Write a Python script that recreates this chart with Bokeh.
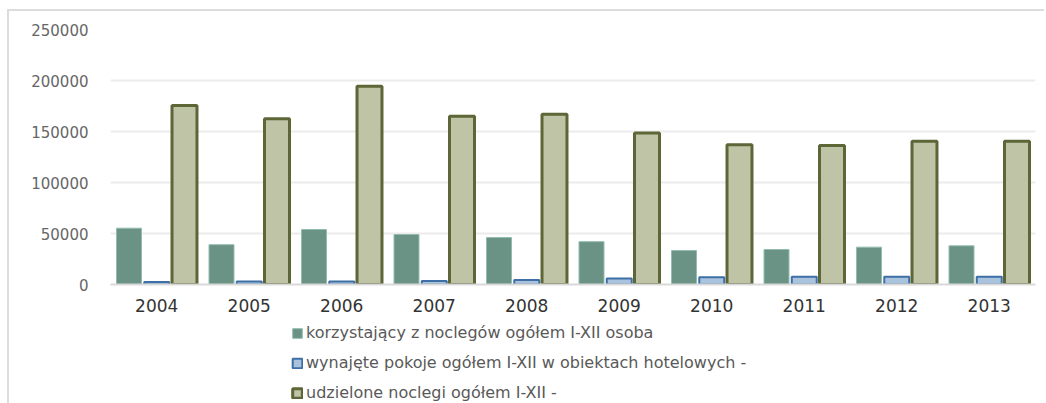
from bokeh.plotting import figure
from bokeh.layouts import column
from bokeh.models import ColumnDataSource, Range1d, FactorRange, Legend, LegendItem, NumeralTickFormatter
from bokeh.transform import dodge
from bokeh.embed import file_html
from bokeh.resources import INLINE

years = ["2004", "2005", "2006", "2007", "2008", "2009", "2010", "2011", "2012", "2013"]
korzystajacy = [55200, 39000, 53900, 49000, 46000, 42000, 33300, 34300, 36600, 37900]
pokoje = [2500, 3000, 3000, 3500, 4500, 6000, 7000, 7500, 7500, 7500]
noclegi = [175500, 162400, 194400, 165000, 167000, 148500, 137000, 136300, 140500, 140500]
series_labels = [
    "korzystający z noclegów ogółem I-XII osoba",
    "wynajęte pokoje ogółem I-XII w obiektach hotelowych -",
    "udzielone noclegi ogółem I-XII -",
]
y_ticks = [0, 50000, 100000, 150000, 200000, 250000]

styles_list = [
    dict(fill_color="#6a9386", line_color="#92bcae", line_width=1),
    dict(fill_color="#a9c3dd", line_color="#3e6fa6", line_width=2),
    dict(fill_color="#bfc4a7", line_color="#5c6636", line_width=3),
]

src = ColumnDataSource(dict(years=years, a=korzystajacy, b=pokoje, c=noclegi))

FONT = "DejaVu Sans"

p = figure(
    width=1035, height=303,
    x_range=FactorRange(*years, range_padding=0),
    y_range=Range1d(0, 250000),
    output_backend="svg", toolbar_location=None, tools="",
    min_border_left=101, min_border_right=9, min_border_top=18, min_border_bottom=30,
)
p.outline_line_color = None
p.background_fill_color = "white"
p.border_fill_color = "white"

w = 0.27
for col, off, st in zip(["a", "b", "c"], [-0.3, 0.0, 0.3], styles_list):
    p.vbar(x=dodge("years", off, range=p.x_range), top=col, width=w, source=src, **st)

p.xgrid.grid_line_color = None
p.ygrid.grid_line_color = "#ececec"
p.ygrid.grid_line_width = 2
p.ygrid.ticker = y_ticks

p.yaxis.ticker = y_ticks
p.yaxis.formatter = NumeralTickFormatter(format="0")
p.yaxis.axis_line_color = None
p.yaxis.major_tick_line_color = None
p.yaxis.minor_tick_line_color = None
p.yaxis.major_label_text_font = FONT
p.yaxis.major_label_text_font_size = "15px"
p.yaxis.major_label_text_color = "#666666"
p.yaxis.major_label_standoff = 16

p.xaxis.axis_line_color = "#d9d9d9"
p.xaxis.axis_line_width = 2
p.xaxis.major_tick_line_color = None
p.xaxis.minor_tick_line_color = None
p.xaxis.major_label_text_font = FONT
p.xaxis.major_label_text_font_size = "17px"
p.xaxis.major_label_text_color = "#333333"
p.xaxis.major_label_standoff = 8

# legend panel below the chart (swatch renderers sit outside the visible range)
lg = figure(
    width=1035, height=89,
    x_range=Range1d(0, 1), y_range=Range1d(0, 1),
    x_axis_type=None, y_axis_type=None,
    output_backend="svg", toolbar_location=None, tools="",
    min_border_left=0, min_border_right=0, min_border_top=0, min_border_bottom=0,
)
lg.outline_line_color = None
lg.border_fill_color = "white"
lg.background_fill_color = "white"

items = []
for lab, st in zip(series_labels, styles_list):
    r = lg.quad(left=[-50], right=[-49], bottom=[-50], top=[-49], **st)
    items.append(LegendItem(label=lab, renderers=[r]))

legend = Legend(
    items=items,
    location=(181, 1),
    orientation="vertical",
    glyph_width=12, glyph_height=12,
    label_height=16, spacing=11, padding=0, margin=0,
    label_standoff=3,
    label_text_font=FONT, label_text_font_size="16px", label_text_color="#595959",
    border_line_color=None, background_fill_alpha=0,
)
lg.add_layout(legend, "center")

layout = column(p, lg, spacing=0)
layout.styles = {"border-left": "2px solid #dcdcdc", "border-top": "2px solid #dcdcdc",
                 "margin-left": "7px", "margin-top": "9px"}

open("out.html", "w").write(file_html(layout, INLINE))
